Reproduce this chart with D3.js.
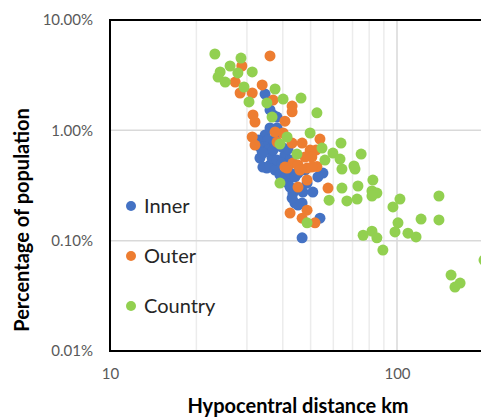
<!DOCTYPE html>
<html>
<head>
<meta charset="utf-8">
<script src="https://cdn.jsdelivr.net/npm/d3@7"></script>
<style>
  body { margin: 0; background: #fff; }
  svg { display: block; font-family: Lato, "Open Sans", sans-serif; }
</style>
</head>
<body>
<script>
// distance km, percentage of population (%)
var innerPoints = [
  [34.7,2.13],[36.1,1.53],[37.0,1.38],[38.2,1.32],[38.2,1.05],[36.1,1.05],[34.7,0.906],
  [32.8,0.817],[37.6,0.817],[36.7,0.783],[35.5,0.817],[34.7,0.706],[33.3,0.706],[33.9,0.636],
  [35.5,0.662],[33.3,0.561],[34.1,0.622],[35.2,0.455],[34.1,0.465],[36.1,0.485],[37.6,0.437],
  [39.1,0.394],[40.7,0.370],[41.7,0.333],[40.7,0.597],[42.4,0.538],
  [36.7,0.561],[37.0,0.662],[38.2,0.538],[39.7,0.505],[39.7,0.706],[41.7,0.676],[43.1,0.378],
  [42.4,0.410],[44.1,0.378],[45.2,0.410],[42.4,0.306],[43.4,0.270],[45.2,0.300],[47.0,0.276],
  [48.6,0.333],[50.9,0.276],[44.1,0.219],[46.7,0.219],[45.2,0.210],[43.1,0.243],[53.9,0.160],
  [46.7,0.106],[55.2,0.410],[53.0,0.378],[47.8,0.437]
];
var outerPoints = [
  [36.1,4.72],[28.8,3.83],[27.3,2.74],[28.4,2.18],[31.3,2.18],[33.9,2.58],[37.0,1.88],
  [43.1,1.66],[43.1,1.47],[31.5,1.38],[32.0,1.19],[40.7,1.21],[31.3,0.870],[32.0,0.735],
  [40.1,0.946],[43.1,0.767],[46.7,0.767],[53.9,0.834],[49.8,0.662],[52.2,0.662],[50.5,0.573],
  [47.8,0.573],[52.6,0.470],[48.6,0.455],[43.4,0.505],[41.4,0.455],[40.7,0.465],[45.2,0.485],
  [50.5,0.465],[45.9,0.437],[48.6,0.354],[45.2,0.306],[57.5,0.300],[42.4,0.178],[48.6,0.189],
  [46.7,0.160],[51.8,0.145],[38.2,0.783],[37.6,0.966]
];
var countryPoints = [
  [23.2,4.92],[28.6,4.52],[26.2,3.83],[24.2,3.38],[23.8,3.04],[25.2,2.74],[27.9,3.31],
  [31.3,3.38],[29.3,2.47],[30.5,1.81],[37.6,2.37],[40.1,1.92],[35.2,1.77],[46.3,1.96],
  [36.7,1.32],[52.6,1.44],[49.8,0.946],[41.4,0.870],[39.1,0.751],[44.8,0.609],[54.8,0.691],
  [59.8,0.622],[63.8,0.767],[75.0,0.609],[56.1,0.538],[63.3,0.549],[70.8,0.475],[64.3,0.446],
  [71.4,0.446],[39.1,0.333],[82.4,0.354],[64.3,0.300],[73.1,0.313],[81.8,0.282],[85.1,0.270],
  [58.0,0.233],[66.9,0.229],[72.6,0.238],[81.8,0.254],[102.4,0.238],[96.8,0.202],[140.0,0.254],
  [121.3,0.157],[140.0,0.154],[100.8,0.145],[98.4,0.120],[76.2,0.112],[81.8,0.122],[85.1,0.106],
  [89.3,0.0822],[109.2,0.117],[116.5,0.108],[154.3,0.0488],[165.9,0.0413],[159.2,0.0380],
  [201,0.0667],[48.6,0.145]
];
var seriesNames = ["Inner", "Outer", "Country"];
var seriesColors = ["#4472c4", "#ed7d31", "#92d050"];
var yTicks = [0.01, 0.1, 1, 10];
var xTicks = [10, 100];
var minorX = [20, 30, 40, 50, 60, 70, 80, 90];

var width = 481, height = 418;
var margin = { top: 20, left: 110, bottom: 351 };

var svg = d3.select("body").append("svg").attr("width", width).attr("height", height);

var x = d3.scaleLog().domain([10, 1000]).range([margin.left, margin.left + 574]);
var y = d3.scaleLog().domain([0.01, 10]).range([margin.bottom, margin.top]);

// gridlines
svg.append("g").selectAll("line").data(minorX).enter().append("line")
  .attr("x1", function(d) { return x(d); }).attr("x2", function(d) { return x(d); })
  .attr("y1", margin.top).attr("y2", margin.bottom)
  .attr("stroke", "#ececec").attr("stroke-width", 1.5);
svg.append("line")
  .attr("x1", x(100)).attr("x2", x(100)).attr("y1", margin.top).attr("y2", margin.bottom)
  .attr("stroke", "#d9d9d9").attr("stroke-width", 1.5);
svg.append("g").selectAll("line").data([0.1, 1]).enter().append("line")
  .attr("x1", margin.left).attr("x2", width)
  .attr("y1", function(d) { return y(d); }).attr("y2", function(d) { return y(d); })
  .attr("stroke", "#d9d9d9").attr("stroke-width", 1.5);

// points: Inner first, Country on top
var allSeries = [innerPoints, outerPoints, countryPoints];
allSeries.forEach(function(pts, i) {
  svg.append("g").selectAll("circle").data(pts).enter().append("circle")
    .attr("cx", function(d) { return x(d[0]); })
    .attr("cy", function(d) { return y(d[1]); })
    .attr("r", 5.5)
    .attr("fill", seriesColors[i]);
});

// axes
var fmt = d3.format(".2f");
var yAxis = svg.append("g").attr("transform", "translate(" + margin.left + ",0)")
  .call(d3.axisLeft(y).tickValues(yTicks).tickSize(0).tickPadding(17)
    .tickFormat(function(d) { return fmt(d) + "%"; }));
var xAxis = svg.append("g").attr("transform", "translate(0," + margin.bottom + ")")
  .call(d3.axisBottom(x).tickValues(xTicks).tickSize(0).tickPadding(17)
    .tickFormat(d3.format("d")));
[yAxis, xAxis].forEach(function(a) {
  a.select(".domain").remove();
  a.selectAll("text").attr("fill", "#595959").style("font-size", "15px")
    .style("font-family", "Lato, 'Open Sans', sans-serif");
});

svg.append("line").attr("x1", margin.left).attr("x2", margin.left)
  .attr("y1", margin.top).attr("y2", margin.bottom).attr("stroke", "#000").attr("stroke-width", 2);
svg.append("line").attr("x1", margin.left - 1).attr("x2", width)
  .attr("y1", margin.bottom).attr("y2", margin.bottom).attr("stroke", "#000").attr("stroke-width", 2);
svg.append("line").attr("x1", margin.left - 1).attr("x2", width)
  .attr("y1", margin.top).attr("y2", margin.top).attr("stroke", "#000").attr("stroke-width", 2);

// legend
var legend = svg.append("g").selectAll("g").data(seriesNames).enter().append("g")
  .attr("transform", function(d, i) { return "translate(131," + (206 + i * 50) + ")"; });
legend.append("circle").attr("r", 5).attr("fill", function(d, i) { return seriesColors[i]; });
legend.append("text").attr("x", 13).attr("dy", "0.36em")
  .attr("fill", "#262626").style("font-size", "20px").text(function(d) { return d; });

// axis titles
svg.append("text").attr("x", 298).attr("y", 413).attr("text-anchor", "middle")
  .style("font-size", "20px").style("font-weight", "bold").attr("fill", "#000")
  .text("Hypocentral distance km");
svg.append("text").attr("transform", "translate(22,220) rotate(-90)")
  .attr("text-anchor", "middle").attr("dy", "0.36em")
  .style("font-size", "20px").style("font-weight", "bold").attr("fill", "#000")
  .text("Percentage of population");
</script>
</body>
</html>
